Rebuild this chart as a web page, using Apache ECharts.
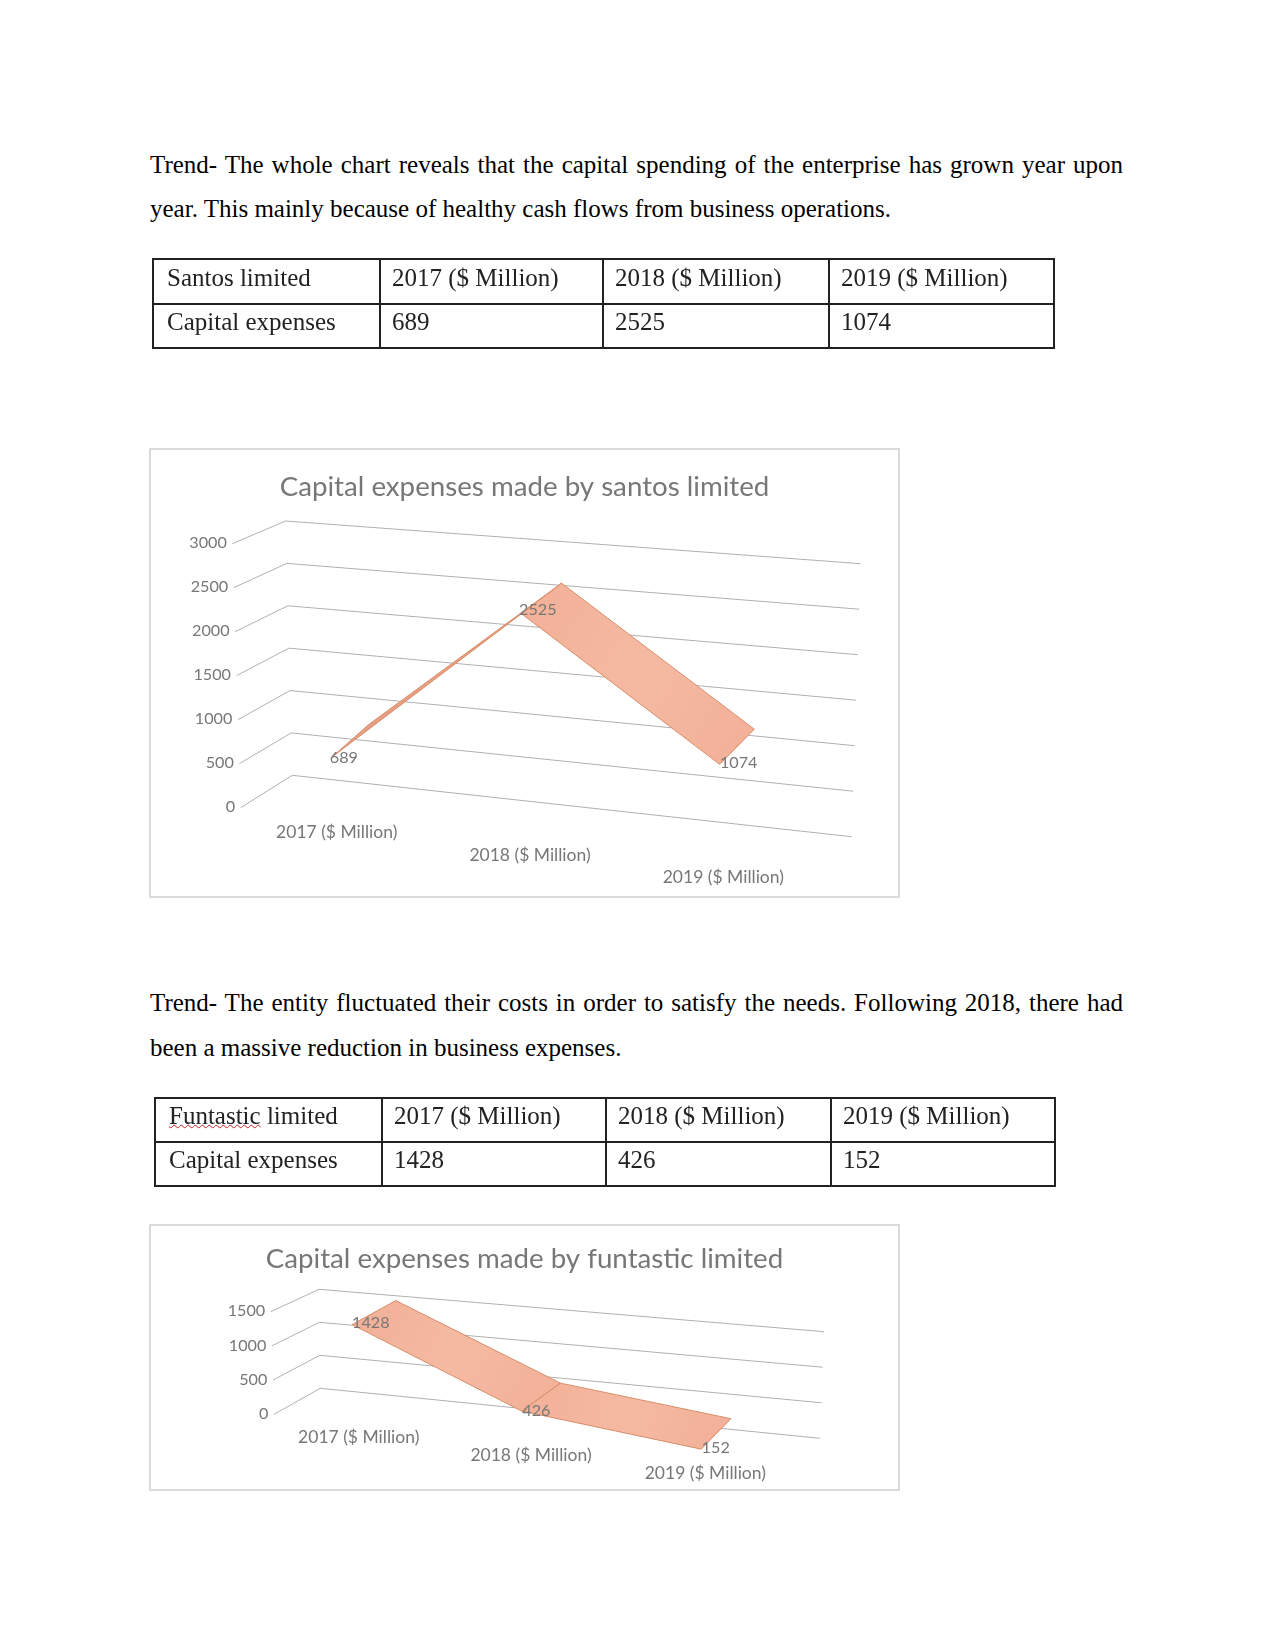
<!DOCTYPE html>
<html>
<head>
<meta charset="utf-8">
<script src="https://cdn.jsdelivr.net/npm/echarts@6/dist/echarts.min.js"></script>
<style>
html,body{margin:0;padding:0;background:#fff;}
body{position:relative;width:1275px;height:1651px;overflow:hidden;}
.line{position:absolute;left:150px;width:973px;height:43px;line-height:43px;font:25px/43px "Liberation Serif",serif;color:#000;white-space:nowrap;}
.just{text-align:justify;text-align-last:justify;white-space:normal;}
table{position:absolute;border-collapse:collapse;table-layout:fixed;font:25px "Liberation Serif",serif;color:#222;}
td{border:2px solid #222;padding:0 0 8px 11px;box-sizing:border-box;white-space:nowrap;overflow:hidden;}
td span,td b{font-weight:normal;filter:blur(.35px);display:inline-block;}
td:first-child{padding-left:13px;}
.sq{text-decoration:underline wavy #d02020 1.2px;text-underline-offset:0px;}
.frame{position:absolute;box-sizing:border-box;border:2px solid #dadada;background:#fff;}
.chart{position:absolute;}
</style>
</head>
<body>
<div class="line just" style="top:143px">Trend- The whole chart reveals that the capital spending of the enterprise has grown year upon</div>
<div class="line" style="top:186.5px">year. This mainly because of healthy cash flows from business operations.</div>
<div class="line just" style="top:981px">Trend- The entity fluctuated their costs in order to satisfy the needs. Following 2018, there had</div>
<div class="line" style="top:1026px">been a massive reduction in business expenses.</div>
<table id="t1" style="left:152px;top:258px;width:901px"></table>
<table id="t2" style="left:154px;top:1097px;width:900px"></table>
<div class="frame" style="left:149px;top:448px;width:751px;height:450px"></div>
<div class="frame" style="left:149px;top:1224px;width:751px;height:267px"></div>
<div class="chart" id="c1" style="left:149px;top:448px;width:751px;height:450px"></div>
<div class="chart" id="c2" style="left:149px;top:1224px;width:751px;height:267px"></div>
<script>
// ---- data ----
const categories = ["2017 ($ Million)", "2018 ($ Million)", "2019 ($ Million)"];
const santosValues = [689, 2525, 1074];
const funtasticValues = [1428, 426, 152];
const santosTicks = [0, 500, 1000, 1500, 2000, 2500, 3000];
const funtasticTicks = [0, 500, 1000, 1500];
const santosTitle = "Capital expenses made by santos limited";
const funtasticTitle = "Capital expenses made by funtastic limited";
const santosName = "Santos limited";
const funtasticNameA = "Funtastic";
const funtasticNameB = " limited";
const rowName = "Capital expenses";

// ---- tables ----
function buildTable(id, vals, nameHtml, colW, rowH) {
  const t = document.getElementById(id);
  const cell = s => '<td><b>' + s + '</b></td>';
  let h = '<colgroup>' + colW.map(w => '<col style="width:' + w + 'px">').join('') + '</colgroup>';
  h += '<tr style="height:' + rowH[0] + 'px"><td><b style="white-space:pre">' + nameHtml + '</b></td>' + categories.map(cell).join('') + '</tr>';
  h += '<tr style="height:' + rowH[1] + 'px">' + cell(rowName) + vals.map(cell).join('') + '</tr>';
  t.innerHTML = h;
}
buildTable('t1', santosValues, santosName, [227, 223, 226, 225], [45, 44]);
buildTable('t2', funtasticValues, '<u class="sq" style="text-decoration-line:underline">' + funtasticNameA + '</u>' + funtasticNameB, [227, 224, 225, 224], [44, 44]);

// ---- projection layouts (page pixels) ----
const layout1 = {
  origin: [149, 448],
  FL0: [240.7, 807.7], FL1: [232.3, 543.7],
  BL0: [292.3, 775.3], BL1: [285.7, 521],
  BR0: [851.7, 836.7], BR1: [860.7, 563.7],
  FR0: [811.7, 871.7], FR1: [818.7, 599.7],
  uFront: [0.162, 0.493, 0.836],
  uBack: [0.138, 0.480, 0.822],
  segFill: ['#e6a084', null],
  labelOff: [[12, 0.5], [16.3, -3.7], [19, -1.6]],
  catPos: [[336.7, 832.7], [530, 855], [723.3, 877.3]],
  titleTop: 20
};
const layout2 = {
  origin: [149, 1224],
  FL0: [274, 1414.3], FL1: [270.7, 1311.7],
  BL0: [320.3, 1388.3], BL1: [319, 1289.3],
  BR0: [820, 1438.3], BR1: [824, 1331.7],
  FR0: [780, 1468.3], FR1: [782, 1361.7],
  uFront: [0.159, 0.490, 0.844],
  uBack: [0.152, 0.480, 0.821],
  segFill: [null, null],
  labelOff: [[18.7, -1.6], [14.6, -0.7], [14.5, -1]],
  catPos: [[358.7, 1437.3], [531, 1455], [705.3, 1473.3]],
  titleTop: 16
};
const textColor = '#777777';
const lineColor = '#b0b0b0';
const ribbonFill = { type: 'linear', x: 0, y: 0, x2: 1, y2: 1, colorStops: [
  { offset: 0, color: '#f2b097' }, { offset: 0.5, color: '#f5b9a2' }, { offset: 1, color: '#f2b097' }
] };
const ribbonEdge = '#d98c68';
const lerp = (a, b, t) => [a[0] + (b[0] - a[0]) * t, a[1] + (b[1] - a[1]) * t];

function makeChart(domId, L, title, values, ticks) {
  const P = (u, z, v) => {
    const b0 = lerp(L.BL0, L.BR0, u), b1 = lerp(L.BL1, L.BR1, u);
    const f0 = lerp(L.FL0, L.FR0, u), f1 = lerp(L.FL1, L.FR1, u);
    const p = lerp(lerp(f0, b0, z), lerp(f1, b1, z), v);
    return [p[0] - L.origin[0], p[1] - L.origin[1]];
  };
  const frac = (params, api, idx, val) => {
    const c = api.coord([idx, val]);
    const cs = params.coordSys;
    return (cs.y + cs.height - c[1]) / cs.height;
  };
  const chart = echarts.init(document.getElementById(domId));
  chart.setOption({
    animation: false,
    title: {
      text: title, left: 'center', top: L.titleTop,
      textStyle: { fontFamily: 'Lato', fontWeight: 'normal', fontSize: 27.7, color: textColor }
    },
    grid: { left: 100, right: 100, top: 60, bottom: 60 },
    xAxis: { type: 'category', data: categories, show: false },
    yAxis: { type: 'value', min: 0, max: ticks[ticks.length - 1], interval: 500, show: false },
    series: [
      {
        type: 'custom', coordinateSystem: 'cartesian2d', silent: true,
        data: ticks.map(t => [0, t]),
        renderItem(params, api) {
          const t = api.value(1), v = frac(params, api, 0, t);
          const a = P(0, 0, v), b = P(0, 1, v), c = P(1, 1, v);
          return {
            type: 'group', children: [
              { type: 'polyline', shape: { points: [a, b, c] }, style: { fill: 'none', stroke: lineColor, lineWidth: 1 } },
              { type: 'text', x: a[0] - 5.5, y: a[1] - 0.5, style: { text: String(t), fill: textColor, font: '16.2px Lato', align: 'right', verticalAlign: 'middle' } }
            ]
          };
        }
      },
      {
        type: 'custom', coordinateSystem: 'cartesian2d', silent: true,
        data: values.slice(0, -1).map((val, i) => [i, val, i + 1, values[i + 1]]),
        renderItem(params, api) {
          const i = api.value(0), j = api.value(2);
          const va = frac(params, api, i, api.value(1)), vb = frac(params, api, j, api.value(3));
          return {
            type: 'polygon',
            shape: { points: [P(L.uFront[i], 0, va), P(L.uFront[j], 0, vb), P(L.uBack[j], 1, vb), P(L.uBack[i], 1, va)] },
            style: { fill: L.segFill[i] || ribbonFill, stroke: ribbonEdge, lineWidth: 1, lineJoin: 'round' }
          };
        }
      },
      {
        type: 'custom', coordinateSystem: 'cartesian2d', silent: true,
        data: values.map((val, i) => [i, val]),
        renderItem(params, api) {
          const i = api.value(0), val = api.value(1);
          const p = P(L.uFront[i], 0, frac(params, api, i, val));
          return {
            type: 'group', children: [
              { type: 'text', x: p[0] + L.labelOff[i][0], y: p[1] + L.labelOff[i][1], style: { text: String(val), fill: textColor, font: '16.2px Lato', align: 'center', verticalAlign: 'middle' } },
              { type: 'text', x: L.catPos[i][0] - L.origin[0], y: L.catPos[i][1] - L.origin[1], style: { text: categories[i], fill: textColor, font: '17.5px Lato', align: 'center', verticalAlign: 'middle' } }
            ]
          };
        }
      }
    ]
  });
}
makeChart('c1', layout1, santosTitle, santosValues, santosTicks);
makeChart('c2', layout2, funtasticTitle, funtasticValues, funtasticTicks);
</script>
</body>
</html>
